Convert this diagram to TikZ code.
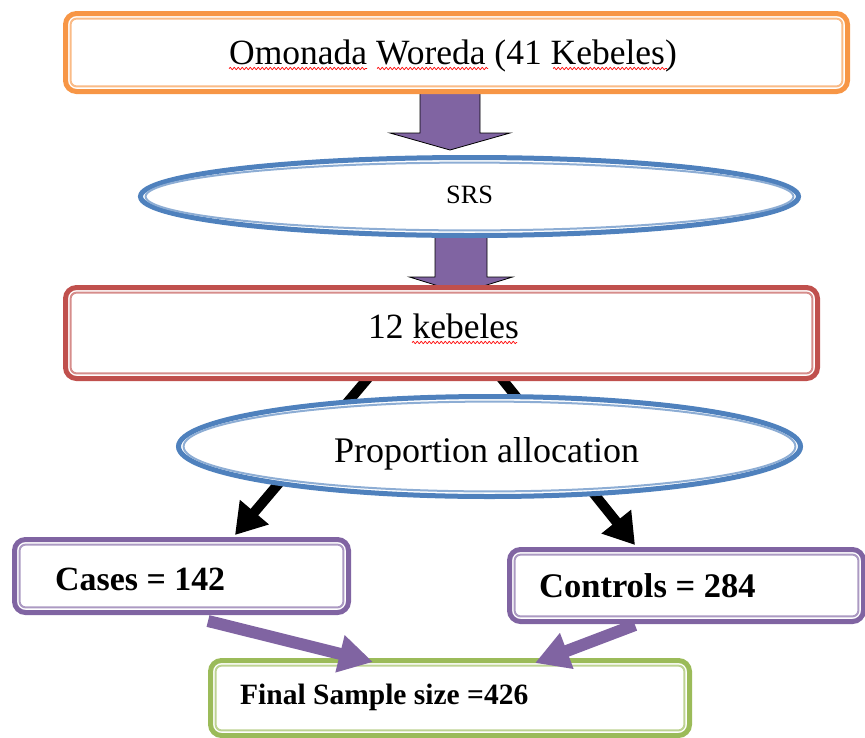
\documentclass[tikz,border=0pt]{standalone}
\usepackage{fontspec}
\setmainfont{Liberation Serif}
\usetikzlibrary{arrows.meta,decorations.pathmorphing,calc,shapes.geometric}
\definecolor{orng}{HTML}{F79646}
\definecolor{blu}{HTML}{4F81BD}
\definecolor{rd}{HTML}{C0504D}
\definecolor{purp}{HTML}{8064A2}
\definecolor{grn}{HTML}{9BBB59}
\pgfdeclarelayer{bg}
\pgfdeclarelayer{frmlow}
\pgfdeclarelayer{nodlow}
\pgfdeclarelayer{mid}
\pgfdeclarelayer{frm}
\pgfsetlayers{bg,frmlow,nodlow,mid,frm,main}
% #1 x centre, #2 y start, #3 y head base, #4 y tip, #5 half shaft, #6 half head
\newcommand\fatarrow[6]{%
  \draw[fat] (#1-#5,#2) -- (#1-#5,#3) -- (#1-#6,#3) -- (#1,#4) -- (#1+#6,#3) -- (#1+#5,#3) -- (#1+#5,#2) -- cycle;}
% outer thick frame round a rectangular node: #1 node, #2 colour
\newcommand\rframe[2]{%
  \draw[#2, fill=white, line width=5pt, rounded corners=11pt] ($(#1.south west)+(-5.1,5.1)$) rectangle ($(#1.north east)+(5.1,-5.1)$);}
% outer thick frame round an elliptic node
\newcommand\eframe[2]{%
  \draw[#2, fill=white, line width=5pt] let \p1=(#1.east), \p2=(#1.north), \p3=(#1.center) in
    (\p3) ellipse [x radius={\x1-\x3+5.1pt}, y radius={\y2-\y3+5.1pt}];}
\begin{document}
\begin{tikzpicture}[x=1pt,y=-1pt,
  rbox/.style={draw=#1!65, fill=white, line width=2pt, rounded corners=6pt, inner sep=0pt, outer sep=0pt},
  ebox/.style={draw=#1!65, fill=white, line width=2pt, ellipse, inner sep=0pt, outer sep=0pt},
  lbl/.style={anchor=base west, inner sep=0pt, text=black},
  squig/.style={draw=red, line width=0.7pt, decorate, decoration={snake, segment length=4pt, amplitude=1.1pt}},
  blk/.style={draw=black, line width=10pt, -{Triangle[length=30pt,width=36pt]}},
  parr/.style={draw=purp, line width=12pt, -{Triangle[length=34pt,width=36pt]}},
  fat/.style={fill=purp, draw=black, line width=0.8pt}
]
\useasboundingbox (0,0) rectangle (865,737);

% boxes
\node[rbox=orng, minimum width=771.8pt, minimum height=67.8pt] (top) at (456.5,52.5) {};
\node[ebox=blu, minimum width=647.8pt, minimum height=67.8pt] (srs) at (469.5,196.5) {};
\node[rbox=rd, minimum width=741.8pt, minimum height=80.8pt] (kb) at (441.5,333) {};
\node[ebox=blu, minimum width=611.8pt, minimum height=89.8pt] (prop) at (489.5,446.5) {};
\node[rbox=purp, minimum width=323.8pt, minimum height=62.8pt] (cases) at (181.5,576) {};
\node[rbox=purp, minimum width=343.8pt, minimum height=61.8pt] (ctrl) at (686.5,585.5) {};
\begin{pgfonlayer}{nodlow}
\node[rbox=grn, minimum width=468.8pt, minimum height=64.8pt] (final) at (450,698) {};
\end{pgfonlayer}
\begin{pgfonlayer}{frm}
\rframe{top}{orng}
\eframe{srs}{blu}
\rframe{kb}{rd}
\eframe{prop}{blu}
\rframe{cases}{purp}
\rframe{ctrl}{purp}
\end{pgfonlayer}
\begin{pgfonlayer}{frmlow}
\rframe{final}{grn}
\end{pgfonlayer}

% texts
\node[lbl, font=\fontsize{35.5}{40}\selectfont] (toptxt) at (229,64) {Omonada Woreda (41 Kebeles)};
\node[lbl, font=\fontsize{26.4}{30}\selectfont] (srstxt) at (446,203) {SRS};
\node[lbl, font=\fontsize{35.5}{40}\selectfont] (kbtxt) at (368,338) {12 kebeles};
\node[lbl, font=\fontsize{36}{40}\selectfont] (proptxt) at (334,462) {Proportion allocation};
\node[lbl, font=\bfseries\fontsize{33.9}{38}\selectfont] (casestxt) at (55,590) {Cases = 142};
\node[lbl, font=\bfseries\fontsize{34.5}{38}\selectfont] (ctrltxt) at (539,597) {Controls = 284};
\node[lbl, font=\bfseries\fontsize{29.5}{34}\selectfont] (finaltxt) at (240,704) {Final Sample size =426};

% spell-check squiggles
\draw[squig] (229,68.5) -- (367,68.5);
\draw[squig] (377,68.5) -- (488,68.5);
\draw[squig] (553,68.5) -- (667,68.5);
\draw[squig] (412,342.5) -- (517,342.5);

% connectors
\begin{pgfonlayer}{bg}
\fatarrow{450}{80}{133}{150}{30}{60}
\fatarrow{461}{225}{277}{293}{26}{51.5}
\coordinate (l1) at ($(kb.south)+(-69.5,0)$);
\coordinate (r1) at ($(kb.south)+(56,0)$);
\coordinate (lt) at (235,535);
\coordinate (rt) at (635,545);
\draw[blk] (l1) -- (lt);
\draw[blk] (r1) -- (rt);
\end{pgfonlayer}
\begin{pgfonlayer}{mid}
\coordinate (ps) at (208,621);
\coordinate (pe) at (373,662);
\coordinate (qs) at (635,625);
\coordinate (qe) at (535,663);
\draw[parr] (ps) -- (pe);
\draw[parr] (qs) -- (qe);
\end{pgfonlayer}
\end{tikzpicture}
\end{document}
